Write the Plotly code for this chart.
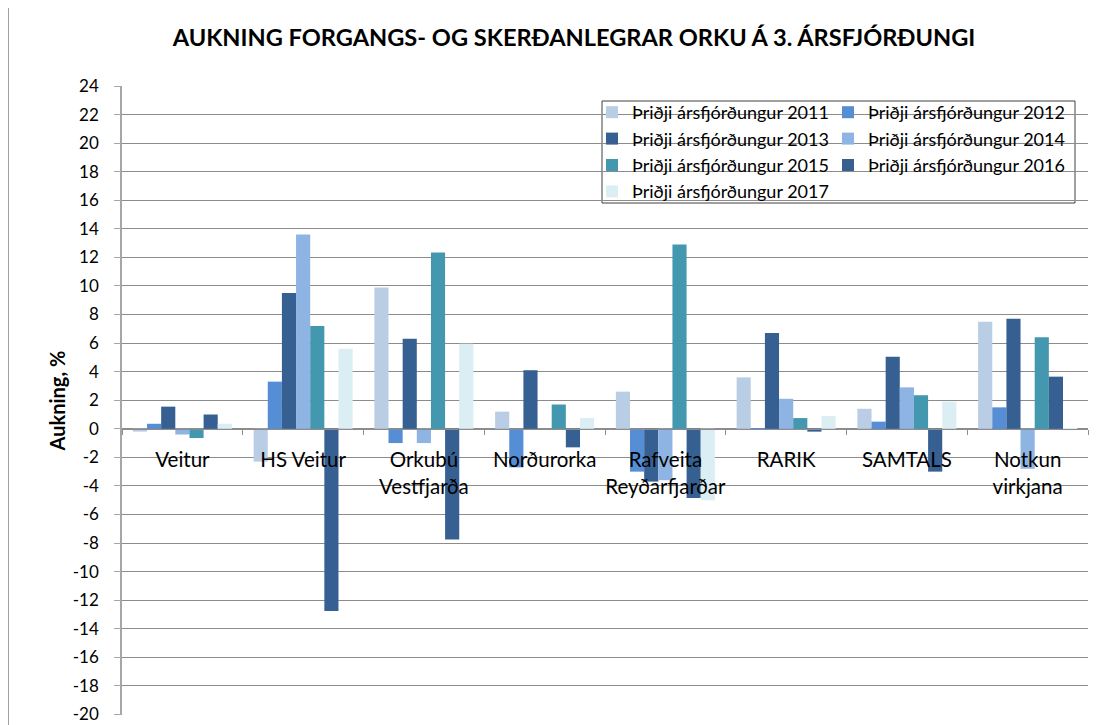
import plotly.graph_objects as go

# kategoríur (veitur) og gildi per ár
categories = ["Veitur", "HS Veitur", "Orkubú<br>Vestfjarða", "Norðurorka",
              "Rafveita<br>Reyðarfjarðar", "RARIK", "SAMTALS", "Notkun<br>virkjana"]

years = ["2011", "2012", "2013", "2014", "2015", "2016", "2017"]

v2011 = [-0.2, -2.3, 9.9, 1.2, 2.6, 3.6, 1.4, 7.5]
v2012 = [0.35, 3.3, -1.0, -2.7, -3.0, 0.05, 0.5, 1.5]
v2013 = [1.55, 9.5, 6.3, 4.1, -3.7, 6.7, 5.05, 7.7]
v2014 = [-0.4, 13.6, -1.0, 0.0, -3.6, 2.1, 2.9, -2.8]
v2015 = [-0.65, 7.2, 12.35, 1.7, 12.9, 0.75, 2.35, 6.4]
v2016 = [1.0, -12.75, -7.75, -1.3, -4.85, -0.2, -3.0, 3.65]
v2017 = [0.35, 5.6, 5.95, 0.75, -5.0, 0.9, 1.9, -0.1]

values = [v2011, v2012, v2013, v2014, v2015, v2016, v2017]
colors = ["#B9CDE5", "#558ED5", "#376092", "#8EB4E3", "#4398AF", "#376092", "#DBEEF4"]

y_ticks = list(range(-20, 25, 2))

FONT = "Lato"

# síðan er með 8px body margin, svo allt er fært um 8px
OFF = 8
W, H = 1110 - 2 * OFF, 725 - OFF
PL, PR, PT, PB = 122 - OFF, 1088 - OFF, 86 - OFF, 715 - OFF

def px(x):
    return (x - OFF - PL) / (PR - PL)

def py(y):
    return (PB - (y - OFF)) / (PB - PT)

fig = go.Figure()
for i, (yr, vals, col) in enumerate(zip(years, values, colors)):
    fig.add_trace(go.Bar(
        x=categories, y=vals, name="Þriðji ársfjórðungur " + yr,
        marker=dict(color=col, line=dict(width=0)),
        legend="legend" if i % 2 == 0 else "legend2",
        legendgroup=yr,
    ))

leg_common = dict(xanchor="left", yanchor="top", bgcolor="rgba(0,0,0,0)", borderwidth=0,
                  traceorder="grouped", tracegroupgap=0, font=dict(size=18, family=FONT))

fig.update_layout(
    width=W, height=H,
    margin=dict(l=PL, r=W - PR, t=PT, b=H - PB),
    paper_bgcolor="white", plot_bgcolor="white",
    font=dict(family=FONT, color="black"),
    barmode="group", bargap=0.18, bargroupgap=0,
    title=dict(text="<b>AUKNING FORGANGS- OG SKERÐANLEGRAR ORKU Á 3. ÁRSFJÓRÐUNGI</b>",
               x=(574 - OFF) / W, xanchor="center", y=1 - (38 - OFF) / H, yanchor="middle",
               font=dict(size=23.6, family=FONT)),
    legend=dict(x=px(592), y=py(94), **leg_common),
    legend2=dict(x=px(828), y=py(94), **leg_common),
    showlegend=True,
)

fig.update_yaxes(
    range=[-20.04, 24], tickvals=y_ticks, ticktext=[str(t) for t in y_ticks],
    showgrid=True, gridcolor="#8c8c8c", gridwidth=1,
    zeroline=False, showline=True, linecolor="#a6a6a6", linewidth=1.5,
    ticks="outside", ticklen=6, tickcolor="#a6a6a6", ticklabelstandoff=12,
    ticklabeloverflow="allow", automargin=False,
    tickfont=dict(size=17, family=FONT),
    title=dict(text="<b>Aukning, %</b>", font=dict(size=20, family=FONT), standoff=2),
)

fig.update_xaxes(
    anchor="free", position=20.04 / 44.04, automargin=False, tickangle=0,
    showgrid=False, showline=True, linecolor="#8c8c8c", linewidth=1,
    ticks="outside", tickson="boundaries", ticklen=5, tickcolor="#8c8c8c",
    tickfont=dict(size=20.5, family=FONT), ticklabelstandoff=13,
)

# ramminn um legend og um allt grafið
fig.add_shape(type="rect", xref="paper", yref="paper",
              x0=px(602), x1=px(1075), y0=py(203), y1=py(101),
              line=dict(color="#404040", width=1), fillcolor="rgba(0,0,0,0)", layer="below")
fig.add_shape(type="rect", xref="paper", yref="paper",
              x0=px(8.5), x1=px(1140), y0=py(760), y1=py(7.5),
              line=dict(color="#a0a0a0", width=1), fillcolor="rgba(0,0,0,0)", layer="below")

fig.write_html("out.html", config={"displayModeBar": False})
